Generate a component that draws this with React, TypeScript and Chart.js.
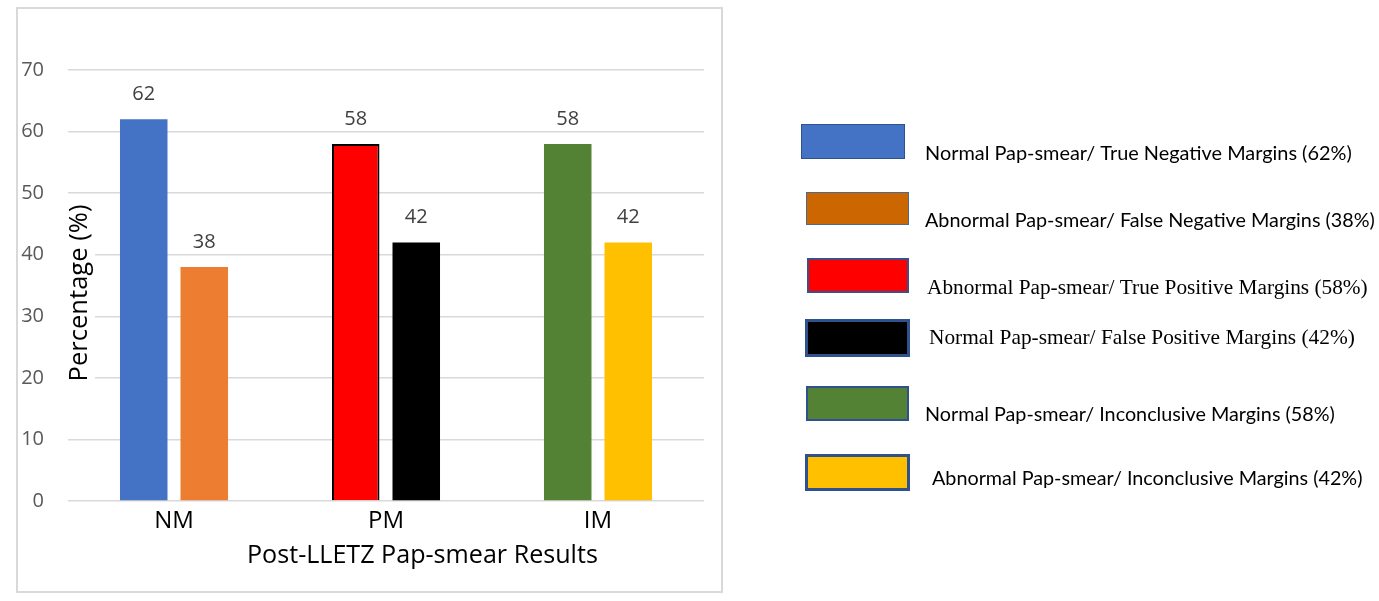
import React, { useEffect, useRef } from "react";
import { Chart, registerables } from "chart.js";

Chart.register(...registerables);

// ---------- data ----------
const categories = ["NM", "PM", "IM"];
const firstValues = [62, 58, 58];
const secondValues = [38, 42, 42];
const firstColors = ["#4472C4", "#FF0000", "#548235"];
const secondColors = ["#ED7D31", "#000000", "#FFC000"];
const firstBorders = ["#4472C4", "#000000", "#548235"];
const firstBorderWidths = [0, 2, 0];
const yMin = 0;
const yMax = 70;
const yStep = 10;
const xTitle = "Post-LLETZ Pap-smear Results";
const yTitle = "Percentage (%)";

const legendLabels = [
  "Normal Pap-smear/ True Negative Margins (62%)",
  "Abnormal Pap-smear/ False Negative Margins (38%)",
  "Abnormal Pap-smear/ True Positive Margins (58%)",
  "Normal Pap-smear/ False Positive Margins (42%)",
  "Normal Pap-smear/ Inconclusive Margins (58%)",
  "Abnormal Pap-smear/ Inconclusive Margins (42%)",
];
const legendColors = ["#4472C4", "#CC6600", "#FF0000", "#000000", "#548235", "#FFC000"];

// ---------- layout (pixels) ----------
const W = 1379;
const H = 601;
const SANS = "'Open Sans', sans-serif";
const LEGEND_SANS = "Lato, 'Open Sans', sans-serif";
const LEGEND_SERIF = "'Liberation Serif', 'Times New Roman', serif";

const legendLayout = [
  { box: [801, 124, 104, 35], border: "#2F528F", bw: 1, tx: 925, ty: 160, tEnd: 1352, serif: false },
  { box: [806, 192, 103, 33], border: "#4A6A8F", bw: 1, tx: 925, ty: 227, tEnd: 1375, serif: false },
  { box: [807, 258, 102, 35], border: "#3D4F8A", bw: 2, tx: 927, ty: 294, tEnd: 1368, serif: true },
  { box: [805, 319, 105, 38], border: "#2F528F", bw: 3, tx: 929, ty: 344, tEnd: 1355, serif: true },
  { box: [806, 386, 103, 35], border: "#2F528F", bw: 2, tx: 925, ty: 421, tEnd: 1335, serif: false },
  { box: [805, 454, 105, 37], border: "#2F528F", bw: 3, tx: 932, ty: 485, tEnd: 1363, serif: false },
];

function fitSize(ctx: CanvasRenderingContext2D, text: string, family: string, width: number) {
  ctx.font = `20px ${family}`;
  const w = ctx.measureText(text).width;
  return (20 * width) / w;
}

const framePlugin = {
  id: "frame",
  beforeDraw(chart: any) {
    const ctx = chart.ctx as CanvasRenderingContext2D;
    ctx.save();
    ctx.fillStyle = "#FFFFFF";
    ctx.fillRect(0, 0, W, H);
    ctx.strokeStyle = "#D9D9D9";
    ctx.lineWidth = 2;
    ctx.strokeRect(17, 8, 705, 584);
    ctx.restore();
  },
};

const valueLabelPlugin = {
  id: "valueLabels",
  afterDatasetsDraw(chart: any) {
    const ctx = chart.ctx as CanvasRenderingContext2D;
    ctx.save();
    ctx.font = `20px ${SANS}`;
    ctx.fillStyle = "#404040";
    ctx.textAlign = "center";
    ctx.textBaseline = "middle";
    chart.data.datasets.forEach((ds: any, di: number) => {
      const meta = chart.getDatasetMeta(di);
      meta.data.forEach((bar: any, i: number) => {
        ctx.fillText(String(ds.data[i]), bar.x, bar.y - 25);
      });
    });
    ctx.restore();
  },
};

const titlesPlugin = {
  id: "titlesAndLegend",
  afterDraw(chart: any) {
    const ctx = chart.ctx as CanvasRenderingContext2D;
    ctx.save();
    // y title with white backing
    ctx.fillStyle = "#FFFFFF";
    ctx.fillRect(67, 200, 28, 187);
    const ySize = fitSize(ctx, yTitle, SANS, 177);
    ctx.translate(80, 293);
    ctx.rotate(-Math.PI / 2);
    ctx.font = `${ySize}px ${SANS}`;
    ctx.fillStyle = "#000000";
    ctx.textAlign = "center";
    ctx.textBaseline = "middle";
    ctx.fillText(yTitle, 0, 0);
    ctx.restore();

    // x title
    ctx.save();
    const xSize = fitSize(ctx, xTitle, SANS, 351);
    ctx.font = `${xSize}px ${SANS}`;
    ctx.fillStyle = "#000000";
    ctx.textAlign = "left";
    ctx.textBaseline = "alphabetic";
    ctx.fillText(xTitle, 247, 563);
    ctx.restore();

    // legend
    legendLayout.forEach((l, i) => {
      ctx.save();
      const [x, y, w, h] = l.box;
      ctx.fillStyle = legendColors[i];
      ctx.fillRect(x, y, w, h);
      ctx.strokeStyle = l.border;
      ctx.lineWidth = l.bw;
      ctx.strokeRect(x + l.bw / 2, y + l.bw / 2, w - l.bw, h - l.bw);
      const fam = l.serif ? LEGEND_SERIF : LEGEND_SANS;
      const size = fitSize(ctx, legendLabels[i], fam, l.tEnd - l.tx);
      ctx.font = `${size}px ${fam}`;
      ctx.fillStyle = "#000000";
      ctx.textAlign = "left";
      ctx.textBaseline = "alphabetic";
      ctx.fillText(legendLabels[i], l.tx, l.ty);
      ctx.restore();
    });
  },
};

export default function App() {
  const canvasRef = useRef<HTMLCanvasElement | null>(null);

  useEffect(() => {
    if (!canvasRef.current) return;
    const chart = new Chart(canvasRef.current, {
      type: "bar",
      data: {
        labels: categories,
        datasets: [
          {
            data: firstValues,
            backgroundColor: firstColors,
            borderColor: firstBorders,
            borderWidth: firstBorderWidths,
            categoryPercentage: 0.571,
            barPercentage: 0.785,
          },
          {
            data: secondValues,
            backgroundColor: secondColors,
            borderWidth: 0,
            categoryPercentage: 0.571,
            barPercentage: 0.785,
          },
        ],
      },
      options: {
        responsive: false,
        animation: false,
        devicePixelRatio: 1,
        layout: { padding: { left: 0, top: 70, right: W - 704, bottom: 0 } },
        plugins: {
          legend: { display: false },
          tooltip: { enabled: false },
        },
        scales: {
          x: {
            grid: { display: false, drawTicks: false },
            border: { display: false },
            ticks: {
              font: { family: SANS, size: 24 },
              color: "#000000",
              padding: 6,
            },
            afterFit: (s: any) => {
              s.height = H - 501;
            },
          },
          y: {
            min: yMin,
            max: yMax,
            ticks: {
              stepSize: yStep,
              font: { family: SANS, size: 20 },
              color: "#595959",
              padding: 24,
            },
            grid: { color: "#D9D9D9", lineWidth: 1.5, drawTicks: false },
            border: { display: false },
            afterFit: (s: any) => {
              s.width = 68;
            },
          },
        },
      },
      plugins: [framePlugin, valueLabelPlugin, titlesPlugin],
    } as any);
    return () => chart.destroy();
  }, []);

  return (
    <div style={{ position: "absolute", left: 0, top: 0, width: W, height: H }}>
      <canvas ref={canvasRef} width={W} height={H} style={{ width: W, height: H, display: "block" }} />
    </div>
  );
}
